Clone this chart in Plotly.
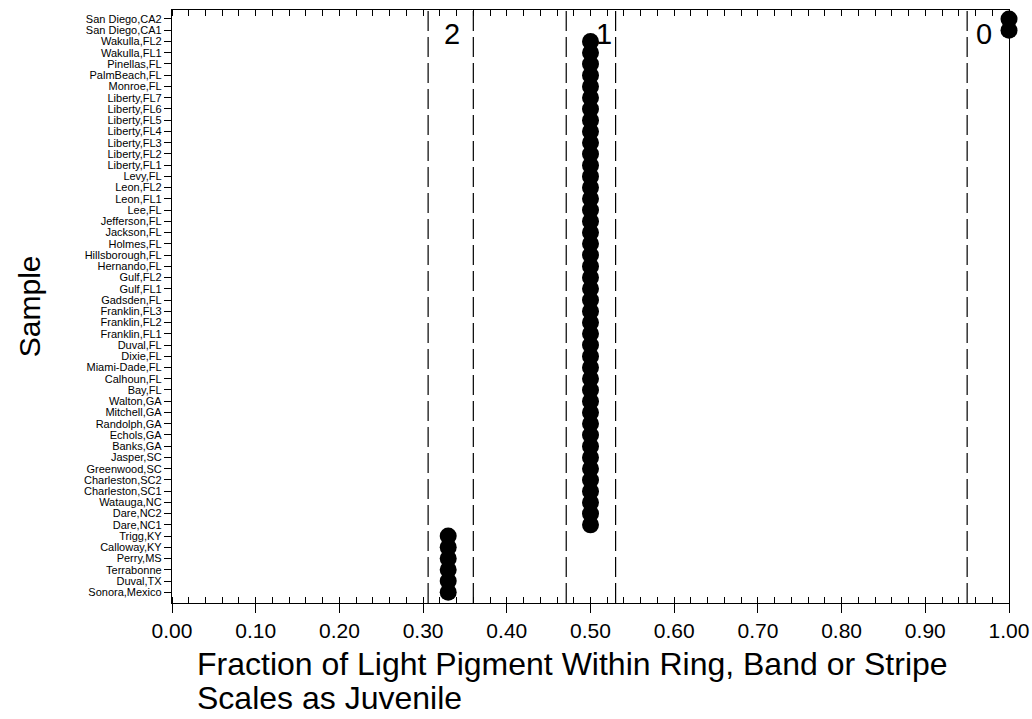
import plotly.graph_objects as go

# Samples, listed bottom to top along the y axis
samples = [
    "Sonora,Mexico", "Duval,TX", "Terrabonne", "Perry,MS", "Calloway,KY", "Trigg,KY",
    "Dare,NC1", "Dare,NC2", "Watauga,NC", "Charleston,SC1", "Charleston,SC2",
    "Greenwood,SC", "Jasper,SC", "Banks,GA", "Echols,GA", "Randolph,GA", "Mitchell,GA",
    "Walton,GA", "Bay,FL", "Calhoun,FL", "Miami-Dade,FL", "Dixie,FL", "Duval,FL",
    "Franklin,FL1", "Franklin,FL2", "Franklin,FL3", "Gadsden,FL", "Gulf,FL1", "Gulf,FL2",
    "Hernando,FL", "Hillsborough,FL", "Holmes,FL", "Jackson,FL", "Jefferson,FL", "Lee,FL",
    "Leon,FL1", "Leon,FL2", "Levy,FL", "Liberty,FL1", "Liberty,FL2", "Liberty,FL3",
    "Liberty,FL4", "Liberty,FL5", "Liberty,FL6", "Liberty,FL7", "Monroe,FL",
    "PalmBeach,FL", "Pinellas,FL", "Wakulla,FL1", "Wakulla,FL2", "San Diego,CA1",
    "San Diego,CA2",
]

# Fraction of light pigment for each sample (same order as samples)
fractions = [0.33] * 6 + [0.5] * 44 + [1.0] * 2

# Dashed class boundaries and class labels
boundaries = [0.306, 0.360, 0.471, 0.530, 0.950]
class_labels = ["2", "1", "0"]
class_label_x = [0.335, 0.516, 0.970]

x_ticks = [i / 10 for i in range(11)]
x_ticktext = [f"{v:.2f}" for v in x_ticks]

x_title_lines = ["Fraction of Light Pigment Within Ring, Band or Stripe", "Scales as Juvenile"]
y_title = "Sample"

FONT = "Liberation Sans, Arial, sans-serif"

fig = go.Figure()

fig.add_trace(go.Scatter(
    x=fractions, y=samples, mode="markers",
    marker=dict(color="black", size=17, symbol="circle"),
    cliponaxis=False, showlegend=False, hoverinfo="x+y",
))
# invisible trace so the top axis is rendered
fig.add_trace(go.Scatter(
    x=[0, 1], y=[samples[0], samples[0]], xaxis="x2", mode="markers",
    marker=dict(opacity=0), showlegend=False, hoverinfo="skip",
))

for b in boundaries:
    fig.add_shape(type="line", xref="x", yref="paper", x0=b, x1=b, y0=0, y1=1,
                  line=dict(color="black", width=1.2, dash="20px,6px"))

for lab, lx in zip(class_labels, class_label_x):
    fig.add_annotation(x=lx, y=0.99, xref="x", yref="paper", text=lab,
                       showarrow=False, yanchor="top",
                       font=dict(family=FONT, size=29, color="black"))

# left-aligned two-line x-axis title, one annotation per line
for line, ty in zip(x_title_lines, [-0.103, -0.161]):
    fig.add_annotation(
        x=0.027, y=ty, xref="paper", yref="paper", xanchor="left", yanchor="middle",
        showarrow=False, text=line,
        font=dict(family=FONT, size=32, color="black"),
    )

# rotated y-axis title
fig.add_annotation(
    x=-0.17, y=0.5, xref="paper", yref="paper", xanchor="center", yanchor="middle",
    textangle=-90, showarrow=False, text=y_title,
    font=dict(family=FONT, size=30, color="black"),
)

fig.update_layout(
    width=1032, height=719,
    margin=dict(l=172, r=23, t=10, b=116),
    paper_bgcolor="white", plot_bgcolor="white",
    font=dict(family=FONT, color="black"),
    xaxis=dict(
        range=[0, 1], tickmode="array", tickvals=x_ticks, ticktext=x_ticktext,
        ticks="outside", ticklen=9, tickwidth=1.2, tickcolor="black",
        tickfont=dict(size=21, family=FONT),
        minor=dict(dtick=0.02, ticks="inside", ticklen=6, tickwidth=1, tickcolor="black"),
        showline=True, linecolor="black", linewidth=1.2, mirror=True,
        showgrid=False, zeroline=False, automargin=False,
    ),
    xaxis2=dict(
        range=[0, 1], overlaying="x", side="top", matches="x",
        tickmode="array", tickvals=x_ticks, ticks="", showticklabels=False,
        minor=dict(dtick=0.02, ticks="inside", ticklen=6, tickwidth=1, tickcolor="black"),
        showline=False, showgrid=False, zeroline=False, automargin=False,
    ),
    yaxis=dict(
        type="category", categoryorder="array", categoryarray=samples,
        tickmode="array", tickvals=samples, ticktext=samples,
        range=[-0.95, 51.8],
        ticks="outside", ticklen=7, tickwidth=1.2, tickcolor="black",
        tickfont=dict(size=11, family=FONT),
        showline=True, linecolor="black", linewidth=1.2, mirror=True,
        showgrid=False, zeroline=False, automargin=False,
    ),
)

fig.write_html("out.html")
